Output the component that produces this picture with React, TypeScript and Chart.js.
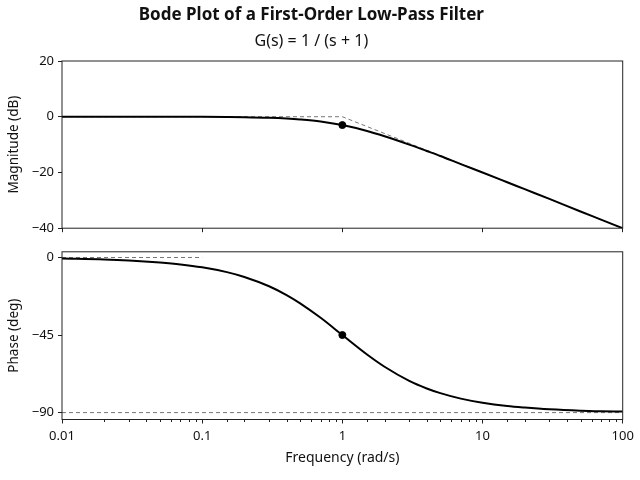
import { useEffect, useRef } from "react"
import { Chart, registerables } from "chart.js"

Chart.register(...registerables)

const FONT = "'Noto Sans', 'DejaVu Sans', sans-serif"

// frequency samples (rad/s) and the values
const freq = [0.01, 0.02, 0.03, 0.05, 0.07, 0.1, 0.15, 0.2, 0.3, 0.4, 0.5, 0.7, 1, 1.5, 2, 3, 4, 5, 7, 10, 15, 20, 30, 50, 70, 100]
const magnitude = [0, 0, 0, -0.01, -0.02, -0.04, -0.1, -0.17, -0.37, -0.64, -0.97, -1.7, -3.0, -5.1, -7.0, -10.0, -12.3, -14.1, -17.0, -20.0, -23.5, -26.0, -29.5, -34.0, -36.9, -40.0]
const phase = [-0.6, -1.1, -1.7, -2.9, -4.0, -5.7, -8.5, -11.3, -16.7, -21.8, -26.6, -35.0, -45.0, -56.3, -63.4, -71.6, -76.0, -78.7, -81.9, -84.3, -86.2, -87.1, -88.1, -88.9, -89.2, -89.4]

// asymptotes
const magAsymX = [0.01, 1, 100]
const magAsymY = [0, 0, -40]
const phaseLowX = [0.01, 0.1]
const phaseLowY = [0, 0]
const phaseHighX = [0.01, 100]
const phaseHighY = [-90, -90]

// corner frequency markers
const cornerX = [1]
const cornerMag = [-3.0]
const cornerPhase = [-45]

const xTickValues = [0.01, 0.1, 1, 10, 100]
const xTickLabels = ["0.01", "0.1", "1", "10", "100"]
const magTicks = [20, 0, -20, -40]
const phaseTicks = [0, -45, -90]

const pts = (xs: number[], ys: number[]) => xs.map((x, i) => ({ x, y: ys[i] }))

const majorIndex = (v: number) => xTickValues.findIndex((t) => Math.abs(Math.log10(v) - Math.log10(t)) < 1e-6)

const minus = (v: number | string) => String(v).replace("-", "\u2212")

const framePlugin = {
  id: "frame",
  afterDatasetsDraw(chart: any) {
    const { ctx, chartArea: a } = chart
    ctx.save()
    ctx.strokeStyle = "#222"
    ctx.lineWidth = 1
    ctx.strokeRect(a.left, a.top, a.right - a.left, a.bottom - a.top)
    ctx.restore()
  },
}

const minorTickPlugin = {
  id: "minorTicks",
  afterDraw(chart: any) {
    const { ctx, chartArea: a } = chart
    const xs = chart.scales.x
    ctx.save()
    ctx.strokeStyle = "#222"
    ctx.lineWidth = 1
    xs.ticks.forEach((t: any) => {
      if (majorIndex(t.value) >= 0) return
      const px = Math.round(xs.getPixelForValue(t.value)) + 0.5
      ctx.beginPath()
      ctx.moveTo(px, a.bottom)
      ctx.lineTo(px, a.bottom + 2.5)
      ctx.stroke()
    })
    ctx.restore()
  },
}

const curve = (data: any[]) => ({
  data,
  borderColor: "#000",
  borderWidth: 2,
  pointRadius: 0,
  cubicInterpolationMode: "monotone" as const,
  order: 1,
})

const dashed = (data: any[]) => ({
  data,
  borderColor: "#777",
  borderWidth: 1,
  borderDash: [4, 3],
  pointRadius: 0,
  order: 2,
})

const marker = (data: any[]) => ({
  data,
  showLine: false,
  pointRadius: 3.5,
  pointBackgroundColor: "#000",
  pointBorderColor: "#000",
  order: 0,
})

const yAxis = (title: string, min: number, max: number, ticks: number[]) => ({
  min,
  max,
  afterFit: (s: any) => {
    s.width = 62
  },
  afterBuildTicks: (s: any) => {
    s.ticks = ticks.map((value) => ({ value }))
  },
  border: { display: false },
  grid: { drawOnChartArea: false, tickLength: 4, tickColor: "#222" },
  ticks: { color: "#111", padding: 4, font: { family: FONT, size: 13 }, callback: (v: any) => minus(v) },
  title: { display: true, text: title, color: "#111", padding: { top: 6, bottom: 0 }, font: { family: FONT, size: 13.5 } },
})

export default function App() {
  const topRef = useRef<HTMLCanvasElement>(null)
  const bottomRef = useRef<HTMLCanvasElement>(null)

  useEffect(() => {
    if (!topRef.current || !bottomRef.current) return

    const top = new Chart(topRef.current, {
      type: "line",
      data: {
        datasets: [curve(pts(freq, magnitude)), dashed(pts(magAsymX, magAsymY)), marker(pts(cornerX, cornerMag))],
      },
      options: {
        animation: false,
        responsive: true,
        maintainAspectRatio: false,
        layout: { padding: { left: 0, right: 17.3, top: 0, bottom: 6 } },
        scales: {
          x: {
            type: "logarithmic",
            min: 0.01,
            max: 100,
            afterBuildTicks: (s: any) => {
              s.ticks = xTickValues.map((value) => ({ value }))
            },
            border: { display: false },
            grid: { drawOnChartArea: false, tickLength: 4, tickColor: "#222" },
            ticks: { display: false },
          },
          y: yAxis("Magnitude (dB)", -40, 20, magTicks) as any,
        },
        plugins: {
          legend: { display: false },
          tooltip: { enabled: false },
          title: {
            display: true,
            text: "Bode Plot of a First-Order Low-Pass Filter",
            color: "#111",
            font: { family: FONT, size: 17, weight: "bold" },
            padding: { top: 5, bottom: 4 },
          },
          subtitle: {
            display: true,
            text: "G(s) = 1 / (s + 1)",
            color: "#111",
            font: { family: FONT, size: 16 },
            padding: { top: 2.5, bottom: 9.9 },
          },
        },
      },
      plugins: [framePlugin],
    })

    const bottom = new Chart(bottomRef.current, {
      type: "line",
      data: {
        datasets: [
          curve(pts(freq, phase)),
          dashed(pts(phaseLowX, phaseLowY)),
          dashed(pts(phaseHighX, phaseHighY)),
          marker(pts(cornerX, cornerPhase)),
        ],
      },
      options: {
        animation: false,
        responsive: true,
        maintainAspectRatio: false,
        layout: { padding: { left: 0, right: 17.3, top: 9.3, bottom: 0 } },
        scales: {
          x: {
            type: "logarithmic",
            min: 0.01,
            max: 100,
            border: { display: false },
            grid: {
              drawOnChartArea: false,
              tickLength: 4,
              tickColor: (c: any) => (c.tick && majorIndex(c.tick.value) >= 0 ? "#222" : "rgba(0,0,0,0)"),
            },
            ticks: {
              autoSkip: false,
              maxRotation: 0,
              padding: 5,
              color: "#111",
              font: { family: FONT, size: 13 },
              callback: (v: any) => {
                const i = majorIndex(Number(v))
                return i >= 0 ? xTickLabels[i] : ""
              },
            },
            title: {
              display: true,
              text: "Frequency (rad/s)",
              color: "#111",
              padding: { top: 0.1, bottom: 14 },
              font: { family: FONT, size: 14 },
            },
          },
          y: yAxis("Phase (deg)", -94, 3.3, phaseTicks) as any,
        },
        plugins: {
          legend: { display: false },
          tooltip: { enabled: false },
        },
      },
      plugins: [framePlugin, minorTickPlugin],
    })

    return () => {
      top.destroy()
      bottom.destroy()
    }
  }, [])

  return (
    <div style={{ position: "absolute", left: 0, top: 0, width: 640, height: 480, background: "#fff" }}>
      <div style={{ position: "relative", width: 640, height: 240 }}>
        <canvas ref={topRef} />
      </div>
      <div style={{ position: "relative", width: 640, height: 240 }}>
        <canvas ref={bottomRef} />
      </div>
    </div>
  )
}
